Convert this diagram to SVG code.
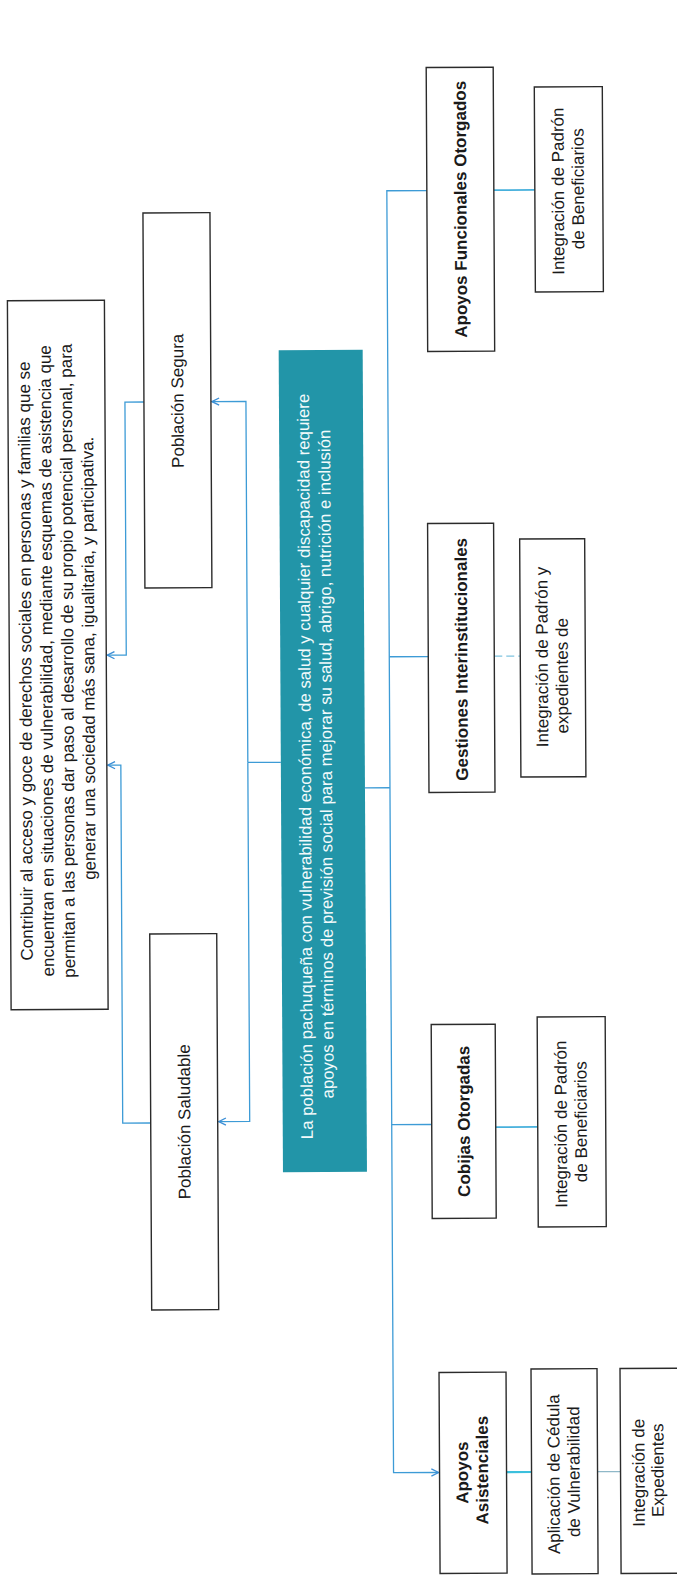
<svg xmlns="http://www.w3.org/2000/svg" width="677" height="1591" viewBox="0 0 677 1591">
<style>
.box{fill:#fff;stroke:#2b2b2b;stroke-width:1.4}
.t{font-family:"Liberation Sans",Arial,sans-serif;font-size:17px;fill:#1a1a1a;text-anchor:middle}
.b{font-weight:bold}
.w{fill:#f2fafb;font-size:16.8px}
.c{fill:none;stroke:#3d9bd6;stroke-width:1.3}
</style>
<defs>
<marker id="arr" viewBox="0 0 10 10" refX="9" refY="5" markerWidth="9" markerHeight="9" markerUnits="userSpaceOnUse" orient="auto">
<path d="M1,1 L9,5 L1,9" fill="none" stroke="#3d8fd6" stroke-width="1.5"/>
</marker>
</defs>
<rect width="677" height="1591" fill="#fff"/>
<g transform="rotate(-0.3 338 795)">
<g id="connectors">
<path class="c" d="M430 191 H390 V1473 H435" marker-end="url(#arr)"/>
<path class="c" d="M390 657 H429"/>
<path class="c" d="M390 1125 H430"/>
<path class="c" d="M365 788 H390"/>
<path class="c" d="M497 191 H538" style="stroke:#46b0dc;stroke-width:1.8"/>
<path class="c" d="M495 657 H521" style="stroke:#7fc4e0;stroke-dasharray:8 4"/>
<path class="c" d="M494 1128 H536" style="stroke:#46b0dc;stroke-width:1.8"/>
<path class="c" d="M503 1473 H528" style="stroke:#3cc0dd;stroke-width:2.2"/>
<path class="c" d="M594 1473 H617" style="stroke:#8fb8c8"/>
<path class="c" d="M281 762 H248"/>
<path class="c" d="M248 762 V401 H214" marker-end="url(#arr)"/>
<path class="c" d="M248 762 V1121 H217" marker-end="url(#arr)"/>
<path class="c" d="M146 401 H127 V654 H108" marker-end="url(#arr)"/>
<path class="c" d="M149 1122 H121 V764 H108" marker-end="url(#arr)"/>
</g>
<g id="fin">
<rect class="box" x="10" y="299" width="97" height="709"/>
<text class="t" transform="translate(0 657) rotate(-90)">
<tspan x="0" y="32">Contribuir al acceso y goce de derechos sociales en personas y familias que se</tspan>
<tspan x="0" y="53">encuentran en situaciones de vulnerabilidad, mediante esquemas de asistencia que</tspan>
<tspan x="0" y="74">permitan a las personas dar paso al desarrollo de su propio potencial personal, para</tspan>
<tspan x="0" y="95">generar una sociedad más sana, igualitaria, y participativa.</tspan>
</text>
</g>
<g id="poblacion-segura">
<rect class="box" x="146" y="212" width="67" height="375"/>
<text class="t" transform="translate(185.5 400) rotate(-90)">Población Segura</text>
</g>
<g id="poblacion-saludable">
<rect class="box" x="149" y="933" width="67" height="376"/>
<text class="t" transform="translate(188.5 1121) rotate(-90)">Población Saludable</text>
</g>
<g id="problema">
<rect x="281" y="350" width="84" height="822" fill="#2295a8"/>
<text class="t w" transform="translate(0 764) rotate(-90)">
<tspan x="0" y="311">La población pachuqueña con vulnerabilidad económica, de salud y cualquier discapacidad requiere</tspan>
<tspan x="0" y="332">apoyos en términos de previsión social para mejorar su salud, abrigo, nutrición e inclusión</tspan>
</text>
</g>
<g id="apoyos-funcionales">
<rect class="box" x="430" y="68" width="67" height="284"/>
<text class="t b" transform="translate(469.5 210) rotate(-90)">Apoyos Funcionales Otorgados</text>
</g>
<g id="padron-funcionales">
<rect class="box" x="538" y="88" width="68" height="205"/>
<text class="t" transform="translate(0 190) rotate(-90)">
<tspan x="0" y="567">Integración de Padrón</tspan>
<tspan x="0" y="587">de Beneficiarios</tspan>
</text>
</g>
<g id="gestiones">
<rect class="box" x="429" y="524" width="66" height="269"/>
<text class="t b" transform="translate(468 660) rotate(-90)">Gestiones Interinstitucionales</text>
</g>
<g id="padron-expedientes">
<rect class="box" x="521" y="540" width="65" height="238"/>
<text class="t" transform="translate(548.5 658) rotate(-90)">Integración de Padrón y</text>
<text class="t" transform="translate(568.5 677) rotate(-90)">expedientes de</text>
</g>
<g id="cobijas">
<rect class="box" x="430" y="1025" width="64" height="194"/>
<text class="t b" transform="translate(468 1122) rotate(-90)">Cobijas Otorgadas</text>
</g>
<g id="padron-cobijas">
<rect class="box" x="536" y="1018" width="68" height="210"/>
<text class="t" transform="translate(0 1123) rotate(-90)">
<tspan x="0" y="565">Integración de Padrón</tspan>
<tspan x="0" y="585">de Beneficiarios</tspan>
</text>
</g>
<g id="apoyos-asistenciales">
<rect class="box" x="436" y="1373" width="67" height="201"/>
<text class="t b" transform="translate(0 1471) rotate(-90)">
<tspan x="0" y="464.5">Apoyos</tspan>
<tspan x="0" y="484.5">Asistenciales</tspan>
</text>
</g>
<g id="cedula">
<rect class="box" x="528" y="1370" width="66" height="205"/>
<text class="t" transform="translate(0 1473) rotate(-90)">
<tspan x="0" y="556">Aplicación de Cédula</tspan>
<tspan x="0" y="576">de Vulnerabilidad</tspan>
</text>
</g>
<g id="expedientes">
<rect class="box" x="617" y="1370" width="66" height="205"/>
<text class="t" transform="translate(0 1472) rotate(-90)">
<tspan x="0" y="641">Integración de</tspan>
<tspan x="0" y="660">Expedientes</tspan>
</text>
</g>
</g>
</svg>
